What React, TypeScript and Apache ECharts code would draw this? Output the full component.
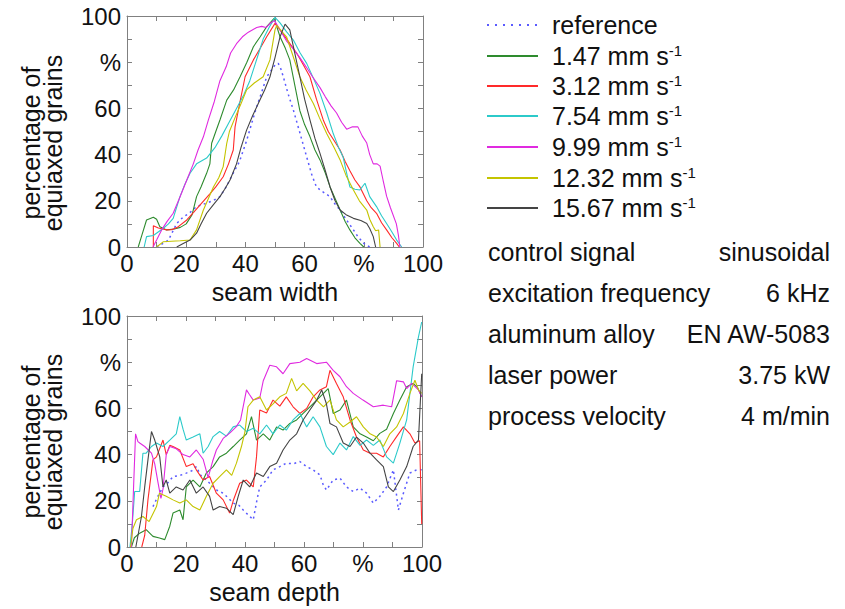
import React, { useEffect, useRef } from "react";
import * as echarts from "echarts";

const FONT = "'Liberation Sans', Arial, Helvetica, sans-serif";

// Tick labels (80 is shown as "%")
const tickLabels: Record<number, string> = { 0: "0", 20: "20", 40: "40", 60: "60", 80: "%", 100: "100" };

const seriesNames = ["reference", "1.47", "3.12", "7.54", "9.99", "12.32", "15.67"];
const seriesColors = ["#5a5aff", "#2e8b2e", "#ff2a2a", "#2ccaca", "#e02ae0", "#c4c400", "#444444"];

// ---------- seam width (top) ----------
const refW = [[10,0],[12.3,1.6],[14,3],[16.8,10.2],[19,13],[21,14.6],[23.5,17.5],[26.9,19],[29,20],[31.4,21.8],[33.5,26],[35.9,32],[38,37],[40.4,46],[42,53],[43.8,60.7],[45.5,67],[47.2,73.7],[48.5,76],[50,78.8],[51.1,79.5],[52,77],[52.8,73.7],[54.5,66],[56.2,59.3],[58.5,49],[60.7,39],[62.5,31],[64,26],[66,24],[68.6,21.8],[70,19],[72,16],[74,12],[76.5,7.4],[78,4.5],[80,1.6],[82,0]];
const greenW = [[3.8,0],[5,5],[6.6,11.7],[8.9,12.9],[10,12],[11.1,8.8],[13.4,7.4],[16,7.8],[18,8.5],[20,10],[22,14],[23.5,21.8],[25,26],[26.9,31.9],[28,36],[28.6,44.9],[30,50],[31.4,55],[33.7,63.6],[36,68],[38.2,73.7],[40.5,80],[42.7,86.7],[45,91],[47.2,95.4],[49.7,99],[51.7,91],[53.5,86],[55,81],[56.7,70],[58.4,59],[60,53],[61.8,47.8],[63.5,42],[65.2,37.7],[67,32],[68.6,26],[70.3,21],[72,16],[73.7,11],[75.3,7.4],[77,4],[78.7,1.6],[80,0]];
const redW = [[8.9,0],[8.9,9.2],[10.6,8.2],[13.4,7.4],[15,7.5],[17,8.5],[20.2,11.7],[22.5,15],[24.7,18.2],[28,23],[30,26],[32.5,30.4],[34.3,36],[35.9,42],[36.5,52],[38.2,63],[39.9,73.7],[42.7,81],[45,86],[47.2,91],[50,96.8],[51.7,94],[54.5,89],[57.3,84],[59.5,79],[61.8,73.7],[64,64],[66.3,55],[68,50],[70,46],[72,42],[73.7,37],[75.3,33],[77,29],[78.7,26],[81,20],[82.5,17],[84.3,14.6],[86,10.5],[87.7,7.4],[89.5,4],[91.1,1.6],[92,0]];
const cyanW = [[5.8,0],[6.6,4.5],[8.9,5],[12.3,8.1],[14,10],[15.6,12.4],[17.9,21.8],[19.5,27],[21.3,31.9],[23.5,36],[26.9,38.5],[29.7,43],[32,48],[34.5,54],[37,60],[39.5,66],[41.5,72],[43,78],[44.5,84],[46,90],[48,95],[50,99.4],[51.7,97],[54,93],[56.2,89.6],[58.5,84],[60.7,79.5],[63,73],[65.2,66.5],[67.5,58],[69.7,49],[71.5,43],[73,39],[74.2,32],[75.3,26],[77,25],[78.7,24.7],[80.4,27.6],[82,21.8],[84.3,17.5],[86,13.5],[87.7,10.2],[89.5,6.5],[91.1,3],[92.8,0]];
const magentaW = [[8.8,0],[10,3],[11.7,7.4],[13.5,11],[15.6,14.6],[18,22],[20.2,29],[22.4,36],[24,42],[25.8,47.7],[27.5,55],[29.5,63],[31.4,72],[33.5,78],[35,84],[37,88],[39,91],[41,93],[43.8,95],[45.5,95.5],[47,95],[48.5,97],[49.8,98],[51.7,94],[54,89],[56,86],[58.4,82],[60.5,78],[62.5,74],[65.2,69],[67,65],[69,61],[70.8,58],[72.5,54],[74.2,51],[76,52],[78,52],[79.5,48],[81,45],[82,40],[83.2,36],[84.5,36],[85.5,35],[86.5,29],[87.7,22],[89,17],[91,10],[91.7,5],[92.2,0]];
const yellowW = [[10,0],[12.3,2.3],[15,2.5],[18,2.7],[21.3,3],[23.5,7.4],[25.8,16],[27.5,21],[29.2,26],[31,30],[32.5,34.8],[33.7,44.9],[34.6,50],[36.5,56],[38.5,62],[40.4,68],[43,71],[46,73.7],[48.3,81],[50,94],[50.6,96],[52.5,93],[53.9,91],[56,83],[58.4,73.7],[60.5,68],[63,62],[65,56],[67.5,49],[70,43],[72,37.7],[74,31],[76.5,24.7],[78.5,20],[81,16],[82,12],[83.2,8.8],[84,7],[85,7.4],[85.5,0]];
const grayW = [[16.8,0],[19,1.5],[21.3,3],[23.5,6],[25,10],[26.9,14.6],[29,18],[31.4,21.8],[33,25],[34.8,29],[37,36],[38.5,43],[40.4,50.6],[42.5,57],[44.9,63.6],[46.5,68],[48.3,73.7],[50,82],[51.7,91],[53.4,96.5],[55,94],[56.5,85],[58.4,73.7],[60,64],[61.8,55],[63.5,47],[65.2,40.5],[67,33],[68.6,26],[70.3,20],[72,16],[74,14],[76.5,12.4],[79,11.5],[81,10.2],[82,8],[83.2,4.5],[84,0]];

// ---------- seam depth (bottom) ----------
const refD = [[8.8,17.5],[10.5,22],[12.2,26],[14,28],[15.6,30.5],[18,31],[20.1,32],[22,33],[23.5,34.8],[25,31],[26.9,29],[28.5,27],[30.3,24.7],[32.6,23.3],[34.5,21],[36,19],[38,18],[39.4,16],[41,14],[42.8,11.8],[44,20],[45,26],[47.3,29],[49.5,33.4],[51.8,34.8],[54,36.3],[56.3,36],[58.6,37],[60.9,34.8],[63.1,33.4],[65.4,31.2],[66.5,27],[67.6,24.7],[69.9,29],[72.2,29.8],[74.4,26],[76.7,24],[79,25.5],[81.2,23.3],[83.5,19],[85.7,21.9],[88,26],[90.3,33.4],[92,16],[93.7,23.3],[95.9,32],[98.2,33.4],[99.9,33.4]];
const greenD = [[1.5,0],[2.5,4],[4.3,6],[6.5,7.5],[8.8,4.6],[11,3.9],[12.8,3.2],[14.5,9],[15.6,14.7],[17.9,16],[19,11.8],[20.1,26],[22.4,29],[24.7,26],[26.9,32],[29.2,34.8],[31.4,39],[33.7,40.6],[36,43.5],[38.2,46.3],[40.5,49],[42.2,56.4],[43.9,46.3],[46.2,49],[48.4,46.3],[50.7,52],[52.9,50.6],[55.2,53.5],[57.5,55],[59.7,57.8],[62,60.7],[64.3,63.6],[66.6,66.5],[68.2,68.6],[69.9,57.8],[72.2,59.3],[74.4,63.6],[76.7,52],[79,49],[81.2,47.6],[83.5,46],[85.7,49.2],[88,51],[90.3,57.8],[92.5,63.6],[94.8,69.4],[97,70.8],[98.5,69],[99.9,65]];
const redD = [[5,0],[6,5],[7.1,20.4],[8.8,37.7],[10,39],[12.2,46.3],[13.3,40],[14.5,44],[15.6,43.5],[17.9,42],[20.1,34.8],[22.4,36],[23.5,33.4],[25.8,29],[28,30.5],[30.3,23.3],[32.6,20.4],[34.8,14.7],[36,20],[38.2,27.6],[40.5,29],[42.8,26],[43.9,39],[45,59.3],[47.3,58],[49.5,63.6],[51.8,61],[54,65],[56.3,60.7],[58.6,57.8],[60.9,60],[63.1,65],[65.4,68],[67.6,69.4],[68.8,76.5],[71,70.8],[73.3,65],[75.6,55],[77.8,47.6],[80.1,42],[82.4,40.6],[84.6,40.6],[86.9,39],[89.1,43.5],[91.4,47.8],[93.7,52],[95.9,49],[97.6,45],[99.2,46],[99.9,10]];
const cyanD = [[1,0],[1.8,10],[2.6,24],[4.3,24],[5.4,40.6],[6.5,40.6],[8.3,43.5],[10,45],[12.2,43.5],[14.5,46.3],[16.7,49],[17.9,56.4],[19,51],[20.1,46.3],[22.4,47.6],[24.7,49],[25.8,40.6],[27.5,43.5],[29.2,47.8],[31.4,50],[33.7,48],[36,52],[38.2,52.8],[40.5,50],[42.8,51.4],[45,49],[47.3,52.8],[49.5,49],[51.8,52.8],[54,50.6],[56.3,55],[58.6,57.8],[60.9,52],[63.1,56.4],[65.4,52],[67.6,43.5],[69.9,40],[72.2,45],[74.4,42],[76.7,47.8],[79,44],[81.2,46.3],[83.5,44],[85.7,46.3],[88,39],[90.3,36.3],[92.5,45],[94.8,55],[97,78],[98.8,91],[99.9,97.4]];
const magentaD = [[1.5,0],[2.2,25],[2.9,49],[3.7,45.6],[4.3,45],[6,43.5],[8.3,40.6],[9.4,36],[10.5,28],[11.5,21],[12.2,25],[13.3,40],[14.5,43.5],[16.7,42.5],[19,40],[21.3,39],[23.5,42],[25.8,38],[27.5,30],[29,37],[30.3,42],[32.6,47],[35,49.5],[37,52],[38.5,55],[40.5,68],[41.5,66],[42.8,63.6],[45,64.5],[46.2,72],[48.4,78.7],[50.7,78],[52.9,75],[55.2,79.4],[58.6,80],[60.9,81.6],[64.3,79.4],[67.6,80],[69.9,76.5],[72.2,73.7],[74.4,69.4],[76.7,66.5],[80,63.6],[83.5,60.7],[86.9,61.4],[89.7,60.7],[90.5,66],[91.4,72],[93.7,71.5],[94.8,68.6],[96.5,70.8],[98.8,68],[99.9,65]];
const yellowD = [[1.2,0],[2,8],[3.2,11.8],[5.4,13.2],[7.5,11],[10,17.5],[11,23.3],[13.3,22],[15.6,20.4],[17.9,19],[20.1,20.4],[22.4,17.5],[24.7,16],[26.9,22],[29.2,27.6],[31.4,30.5],[33.7,33.4],[35.5,31],[37.1,36.3],[38.8,43.5],[40,50],[41,60.7],[42.8,63.6],[45,65],[47.3,59.3],[49.5,62],[51.8,65],[54,66.5],[55.8,73],[57.5,67.6],[59.7,70.8],[62,67.6],[64.3,63.6],[66.6,60.7],[68.8,63.6],[71,55],[73.3,52],[75.5,54],[77.8,56.4],[80.1,52],[82.4,49],[84.6,47.6],[86.9,43.5],[89.1,49],[91.4,52],[93.7,57.8],[95.9,66.5],[97.6,72.2],[98.8,68],[99.9,66.5]];
const grayD = [[3,0],[4.9,13.2],[6,26],[7.1,37.7],[8.3,50],[9.4,46.3],[11.1,39],[12.2,26],[13.3,29],[14.5,23.3],[16.7,26],[19,24.7],[21.3,29],[23.5,23.3],[25.8,26],[28,21.9],[29.2,16],[31.4,17.5],[33.7,16.8],[36,14],[37.7,21.9],[39.4,29],[41.6,26],[43.9,32],[46.2,30.5],[48.4,34.8],[50.7,36.3],[52.9,42],[55.2,46.3],[57.5,49],[59.7,55],[62,59.3],[64.3,63.6],[66,68],[67.6,62],[68.8,53.5],[71,52],[73.3,45],[75.6,43.5],[77.8,47.6],[80.1,45],[82.4,40.6],[84.6,37.7],[86.9,34.8],[88.6,26],[90.3,24],[92.5,29],[94.8,34.8],[97,43.5],[98.8,46.3],[99.9,75]];

const widthData = [refW, greenW, redW, cyanW, magentaW, yellowW, grayW];
const depthData = [refD, greenD, redD, cyanD, magentaD, yellowD, grayD];

const tableLeft = ["control signal", "excitation frequency", "aluminum alloy", "laser power", "process velocity"];
const tableRight = ["sinusoidal", "6 kHz", "EN AW-5083", "3.75 kW", "4 m/min"];

const AXIS_COLOR = "#808080";
const TEXT_COLOR = "#111111";

function fmt(v: number) {
  return tickLabels[v] !== undefined ? tickLabels[v] : "";
}

function mkAxis(kind: "x" | "y", gridIndex: number, position: string, labels: boolean, name?: string) {
  const ax: any = {
    type: "value",
    gridIndex,
    position,
    min: 0,
    max: 100,
    interval: 10,
    axisLine: { show: true, onZero: false, lineStyle: { color: AXIS_COLOR, width: 1 } },
    axisTick: { show: true, inside: true, length: 5, lineStyle: { color: AXIS_COLOR, width: 1 } },
    axisLabel: labels
      ? { show: true, formatter: fmt, color: TEXT_COLOR, fontSize: 24, fontFamily: FONT, margin: kind === "x" ? 4 : 6, showMinLabel: true, showMaxLabel: true, hideOverlap: false }
      : { show: false },
    splitLine: { show: false },
  };
  if (name) {
    ax.name = name;
    ax.nameLocation = "middle";
    ax.nameGap = 32;
    ax.nameTextStyle = { color: TEXT_COLOR, fontSize: 25, fontFamily: FONT };
  }
  return ax;
}

export default function App() {
  const ref = useRef<HTMLDivElement>(null);
  useEffect(() => {
    if (!ref.current) return;
    const chart = echarts.init(ref.current, null, { renderer: "svg" });
    const series: any[] = [];
    seriesNames.forEach((name, i) => {
      const isRef = i === 0;
      const lineStyle = { color: seriesColors[i], width: isRef ? 1.5 : 1.1, type: isRef ? [2, 3.5] : "solid" };
      [widthData[i], depthData[i]].forEach((d, g) => {
        series.push({
          type: "line",
          name,
          data: d,
          xAxisIndex: g * 2,
          yAxisIndex: g * 2,
          symbol: "none",
          showSymbol: false,
          color: seriesColors[i],
          lineStyle,
          z: isRef ? 1 : 2 + i,
          silent: true,
        });
      });
    });

    const graphics: any[] = [];
    // y-axis titles
    [143, 442].forEach((cy) => {
      graphics.push({
        type: "text",
        x: 42,
        y: cy,
        rotation: Math.PI / 2,
        style: {
          text: "percentage of\nequiaxed grains",
          font: `25px ${FONT}`,
          fill: TEXT_COLOR,
          align: "center",
          verticalAlign: "middle",
          lineHeight: 22,
        },
      });
    });
    // legend (line samples + labels)
    const legendY = [25, 56, 86, 116, 147, 178, 208];
    seriesNames.forEach((name, i) => {
      const isRef = i === 0;
      graphics.push({
        type: "line",
        shape: { x1: 487, y1: legendY[i], x2: 538, y2: legendY[i] },
        style: { stroke: seriesColors[i], lineWidth: isRef ? 2 : 2, lineDash: isRef ? [2, 6] : null },
      });
      graphics.push({
        type: "text",
        x: 552,
        y: legendY[i],
        style: {
          text: isRef ? name : `${name} mm s{sup|-1}`,
          font: `25px ${FONT}`,
          fill: TEXT_COLOR,
          align: "left",
          verticalAlign: "middle",
          lineHeight: 26,
          rich: {
            sup: { font: `15px ${FONT}`, fill: TEXT_COLOR, verticalAlign: "top", lineHeight: 26 },
          },
        },
      });
    });
    // parameter table
    const rowY = [252, 293, 334, 375, 416];
    tableLeft.forEach((t, i) => {
      graphics.push({
        type: "text",
        x: 488,
        y: rowY[i],
        style: { text: t, font: `25px ${FONT}`, fill: TEXT_COLOR, align: "left", verticalAlign: "middle" },
      });
      graphics.push({
        type: "text",
        x: 830,
        y: rowY[i],
        style: { text: tableRight[i], font: `25px ${FONT}`, fill: TEXT_COLOR, align: "right", verticalAlign: "middle" },
      });
    });

    chart.setOption({
      animation: false,
      backgroundColor: "#ffffff",
      grid: [
        { left: 127, top: 16, width: 296, height: 231 },
        { left: 127, top: 316, width: 295, height: 231 },
      ],
      xAxis: [
        mkAxis("x", 0, "bottom", true, "seam width"),
        mkAxis("x", 0, "top", false),
        mkAxis("x", 1, "bottom", true, "seam depth"),
        mkAxis("x", 1, "top", false),
      ],
      yAxis: [
        mkAxis("y", 0, "left", true),
        mkAxis("y", 0, "right", false),
        mkAxis("y", 1, "left", true),
        mkAxis("y", 1, "right", false),
      ],
      graphic: graphics,
      series,
    });
    return () => chart.dispose();
  }, []);
  return <div ref={ref} style={{ position: "absolute", left: 0, top: 0, width: 845, height: 609 }} />;
}
